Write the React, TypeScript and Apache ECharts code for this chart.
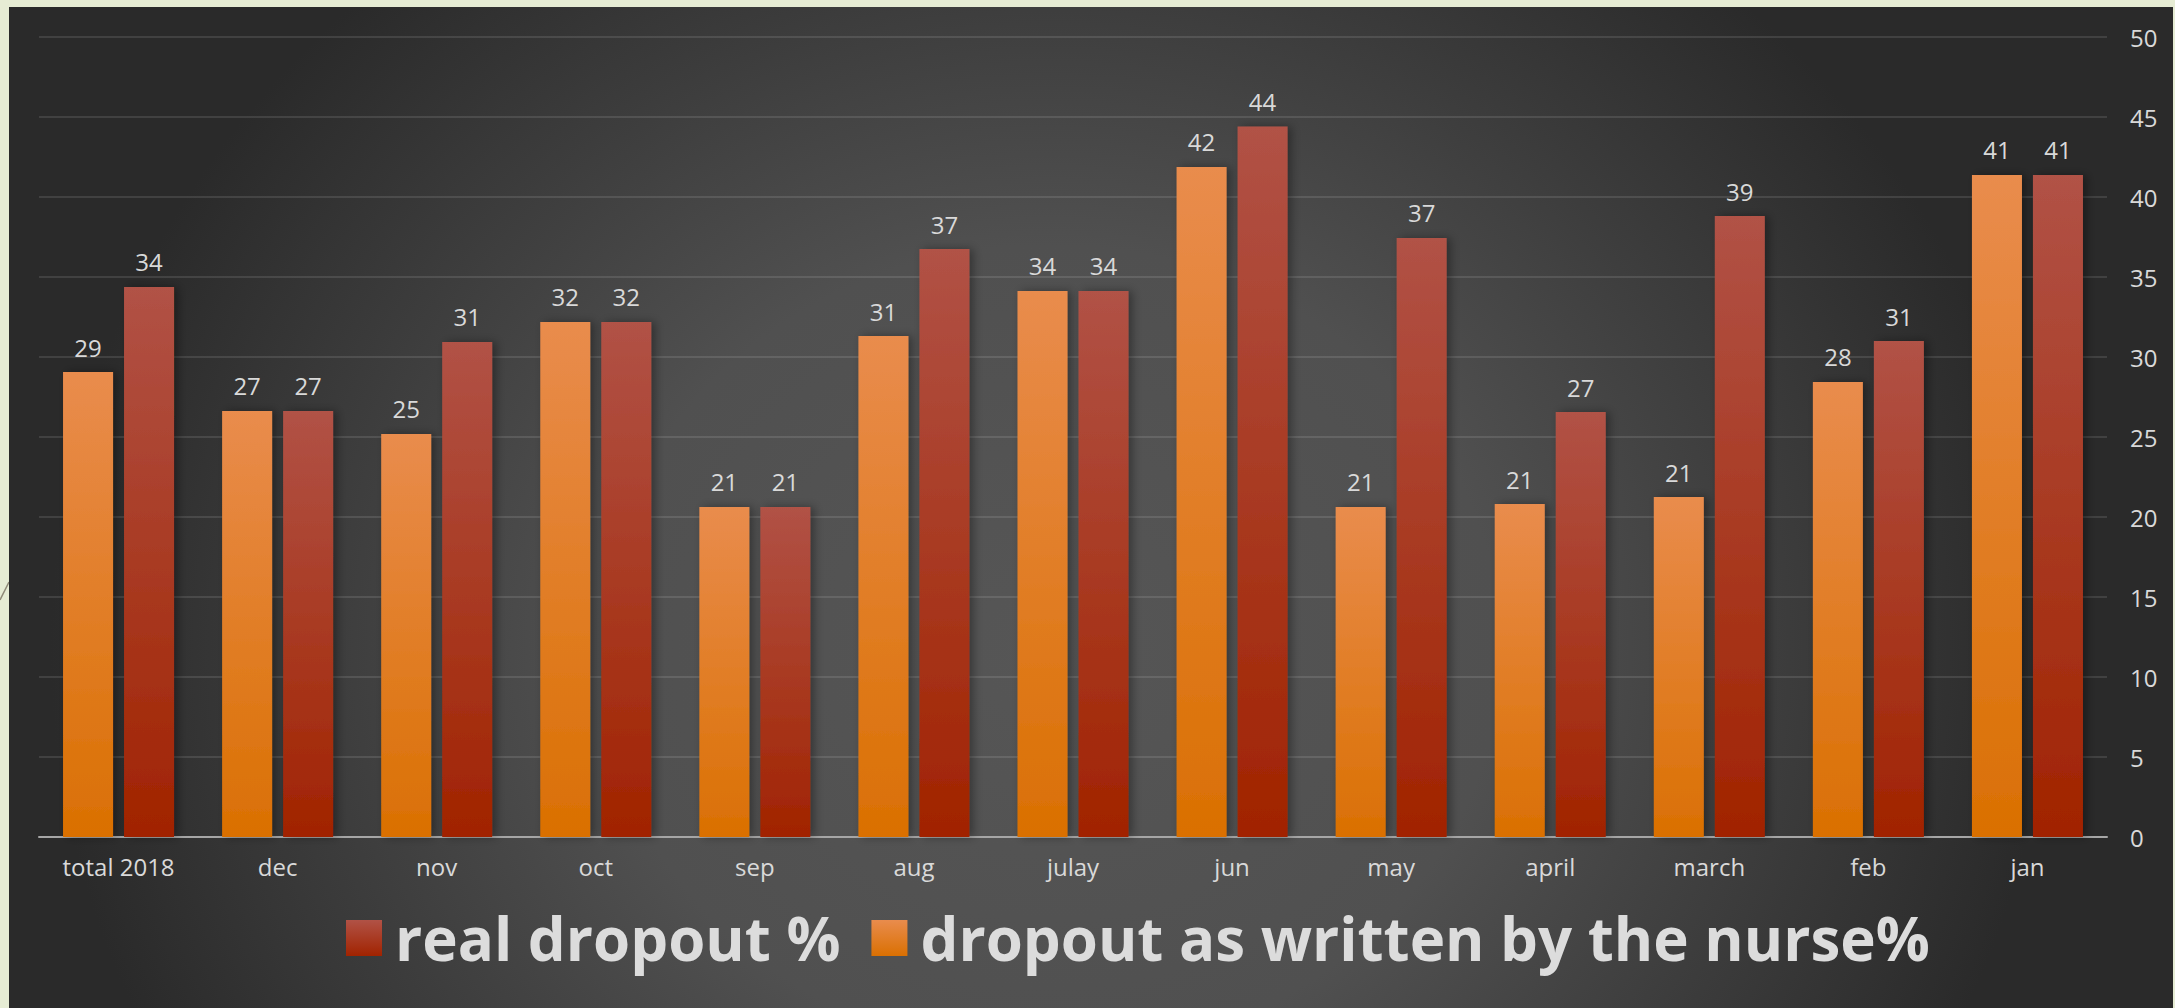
import React, { useEffect, useRef } from "react";
import * as echarts from "echarts";

const categories = ["total 2018", "dec", "nov", "oct", "sep", "aug", "julay", "jun", "may", "april", "march", "feb", "jan"];
const nurseValues = [29.06, 26.63, 25.19, 32.19, 20.63, 31.31, 34.13, 41.88, 20.63, 20.81, 21.25, 28.44, 41.38];
const realValues = [34.38, 26.63, 30.94, 32.19, 20.63, 36.75, 34.13, 44.4, 37.44, 26.56, 38.81, 31.0, 41.38];
const seriesNames = ["real dropout %", "dropout as written by the nurse%"];
const yMin = 0;
const yMax = 50;
const yStep = 5;

const FONT = "'Open Sans', 'DejaVu Sans', sans-serif";
const TEXT = "#d9d9d9";

export default function App() {
  const ref = useRef<HTMLDivElement>(null);

  useEffect(() => {
    if (!ref.current) return;
    const chart = echarts.init(ref.current, undefined, { renderer: "svg" });
    const orange = new echarts.graphic.LinearGradient(0, 0, 0, 1, [
      { offset: 0, color: "#e98c4d" },
      { offset: 1, color: "#da7002" },
    ]);
    const red = new echarts.graphic.LinearGradient(0, 0, 0, 1, [
      { offset: 0, color: "#b15246" },
      { offset: 1, color: "#a12300" },
    ]);
    const labelCfg = {
      show: true,
      position: "top" as const,
      distance: 13,
      color: TEXT,
      fontSize: 24,
      fontFamily: FONT,
      formatter: (p: any) => String(Math.round(p.value)),
    };
    chart.setOption({
      animation: false,
      backgroundColor: "transparent",
      grid: { left: 30, right: 66, top: 30, bottom: 171, containLabel: false },
      legend: {
        data: [seriesNames[0], seriesNames[1]],
        left: 332,
        top: 896,
        icon: "rect",
        itemWidth: 36,
        itemHeight: 36,
        itemGap: 31,
        itemStyle: { shadowBlur: 0, shadowColor: "transparent", shadowOffsetX: 0 },
        textStyle: {
          color: "#dcdcdc",
          fontSize: 60,
          fontWeight: "bold",
          fontFamily: FONT,
          lineHeight: 60,
          padding: [0, 0, 0, 8],
        },
      },
      xAxis: {
        type: "category",
        data: categories,
        axisLine: { show: true, lineStyle: { color: "#a6a6a6", width: 2 } },
        axisTick: { show: false },
        axisLabel: { color: TEXT, fontSize: 24, fontFamily: FONT, margin: 17, interval: 0 },
        splitLine: { show: false },
      },
      yAxis: {
        type: "value",
        position: "right",
        min: yMin,
        max: yMax,
        interval: yStep,
        axisLine: { show: false },
        axisTick: { show: false },
        axisLabel: { color: TEXT, fontSize: 24, fontFamily: FONT, margin: 23 },
        splitLine: { show: true, lineStyle: { color: "rgba(255,255,255,0.11)", width: 2 } },
      },
      series: [
        {
          name: seriesNames[1],
          type: "bar",
          data: nurseValues,
          barWidth: 50,
          barGap: "22%",
          itemStyle: { color: orange, shadowBlur: 10, shadowColor: "rgba(0,0,0,0.35)", shadowOffsetX: 4 },
          label: labelCfg,
        },
        {
          name: seriesNames[0],
          type: "bar",
          data: realValues,
          barWidth: 50,
          barGap: "22%",
          itemStyle: { color: red, shadowBlur: 10, shadowColor: "rgba(0,0,0,0.35)", shadowOffsetX: 4 },
          label: labelCfg,
        },
      ],
    });
    return () => chart.dispose();
  }, []);

  return (
    <div
      style={{
        position: "absolute",
        left: 0,
        top: 0,
        width: 2175,
        height: 1008,
        background: "#e6ecd4",
        overflow: "hidden",
      }}
    >
      <svg style={{ position: "absolute", left: 0, top: 0 }} width={20} height={1008}>
        <line x1={0} y1={600} x2={9} y2={582} stroke="#8f8a78" strokeWidth={1.5} />
      </svg>
      <div
        ref={ref}
        style={{
          position: "absolute",
          left: 9,
          top: 7,
          width: 2164,
          height: 1001,
          background:
            "radial-gradient(ellipse 1000px 900px at 1041px 643px, #565656 0%, #505050 45%, #2a2a2a 100%)",
        }}
      />
    </div>
  );
}
